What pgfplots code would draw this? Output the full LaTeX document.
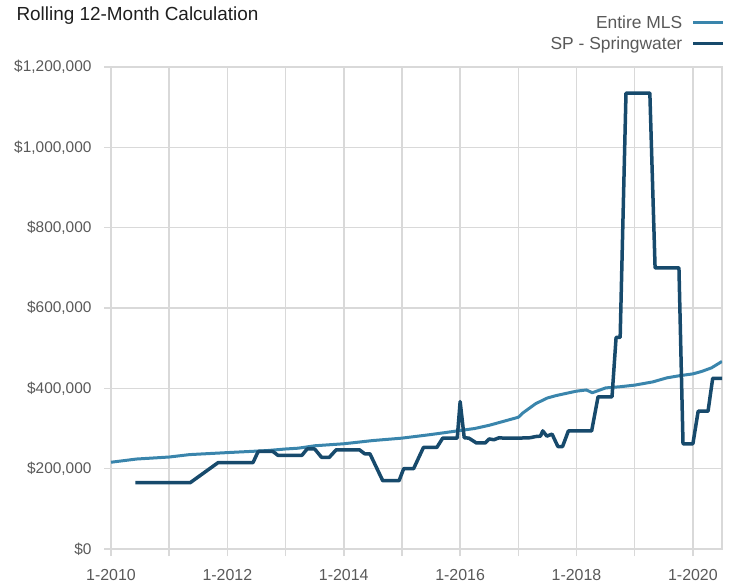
\documentclass[border=0pt]{standalone}
\usepackage{fontspec}
\setmainfont{Liberation Sans}
\usepackage{pgfplots}
\pgfplotsset{compat=1.18}
\definecolor{mlsblue}{HTML}{3A85AC}
\definecolor{spblue}{HTML}{174A6C}
\definecolor{gridgray}{HTML}{D9D9D9}
\definecolor{labgray}{HTML}{595959}
\begin{document}
\begin{tikzpicture}
\path[use as bounding box] (-111bp,-36bp) rectangle (621bp,549bp);
\begin{axis}[
  at={(0,0)}, anchor=south west, scale only axis,
  width=611bp, height=482bp,
  xmin=2010, xmax=2020.5, ymin=0, ymax=1200000,
  xtick={2010,2011,2012,2013,2014,2015,2016,2017,2018,2019,2020},
  xticklabels={1-2010,,1-2012,,1-2014,,1-2016,,1-2018,,1-2020},
  ytick={0,200000,400000,600000,800000,1000000,1200000},
  yticklabels={{\$0},{\$200,000},{\$400,000},{\$600,000},{\$800,000},{\$1,000,000},{\$1,200,000}},
  scaled y ticks=false,
  grid=major, grid style={gridgray, line width=1.5bp},
  axis line style={gridgray, line width=1.5bp},
  tick align=outside, major tick length=7bp,
  tick style={gridgray, line width=1.5bp},
  xtick pos=left, ytick pos=left,
  ticklabel style={font=\fontsize{15.5}{18}\selectfont, text=labgray},
  xticklabel style={yshift=-10bp, font=\fontsize{16}{18}\selectfont},
  yticklabel style={xshift=-9bp},
  legend style={at={(1,1)}, anchor=south east, xshift=3bp, yshift=14bp, draw=none, fill=none,
    font=\fontsize{17.5}{21}\selectfont, text=labgray, inner sep=0pt, row sep=3bp},
  legend cell align=right, legend plot pos=right,
  legend image code/.code={\path (0bp,0bp); \draw[#1] (7bp,0bp) -- (37bp,0bp);},
]
\addplot[mlsblue, line width=3bp, line join=round] coordinates {
(2010.0,216000) (2010.44,224000) (2011.0,229000) (2011.35,235000) (2012.0,240000)
(2012.68,245000) (2013.0,249000) (2013.22,251000) (2013.5,257000) (2014.0,262000)
(2014.5,270000) (2015.0,276000) (2015.5,285000) (2016.0,295000) (2016.25,300000)
(2016.5,308000) (2016.75,318000) (2017.0,328000) (2017.08,339000) (2017.3,362000)
(2017.5,376000) (2017.65,382000) (2017.84,388000) (2018.0,393000) (2018.17,396000)
(2018.27,389000) (2018.5,401000) (2018.75,404000) (2019.0,408000) (2019.31,416000)
(2019.55,426000) (2019.75,431000) (2020.0,436000) (2020.15,442000) (2020.32,451000)
(2020.5,467000)
};
\addlegendentry{Entire MLS}
\addplot[spblue, line width=3.5bp, line join=round] coordinates {
(2010.42,165000) (2011.36,165000) (2011.84,215000) (2012.44,215000) (2012.53,243000)
(2012.78,243000) (2012.87,233000) (2013.28,233000) (2013.37,249000) (2013.5,249000)
(2013.62,228000) (2013.75,228000) (2013.87,247000) (2014.27,247000) (2014.36,237000)
(2014.45,237000) (2014.67,170000) (2014.95,170000) (2015.03,200000) (2015.2,200000)
(2015.37,253000) (2015.6,253000) (2015.7,276000) (2015.95,276000) (2016.0,367000)
(2016.07,277000) (2016.15,276000) (2016.28,264000) (2016.43,264000) (2016.5,274000)
(2016.58,272000) (2016.67,277000) (2016.75,276000) (2017.0,276000) (2017.2,277000)
(2017.3,280000) (2017.38,281000) (2017.42,294000) (2017.49,281000) (2017.58,286000)
(2017.68,255000) (2017.76,255000) (2017.86,294000) (2018.26,294000) (2018.37,379000)
(2018.61,379000) (2018.68,527000) (2018.75,527000) (2018.85,1135000) (2019.26,1135000)
(2019.35,700000) (2019.76,700000) (2019.83,262000) (2020.0,262000) (2020.09,343000)
(2020.26,343000) (2020.34,425000) (2020.5,425000)
};
\addlegendentry{SP - Springwater}
\end{axis}
\node[anchor=base west, font=\fontsize{19}{23}\selectfont, text=black!88] at (-98bp,528bp) {Rolling 12-Month Calculation};
\end{tikzpicture}
\end{document}
